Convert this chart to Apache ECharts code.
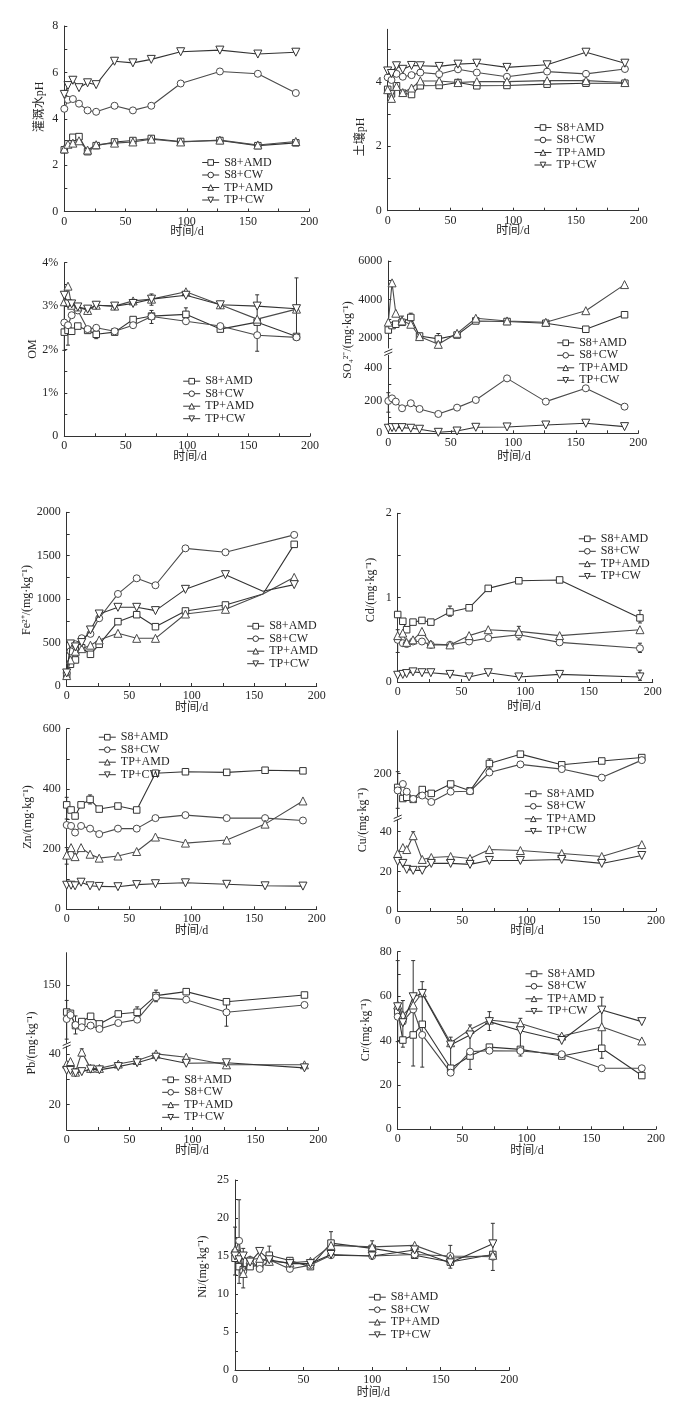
<!DOCTYPE html>
<html><head><meta charset="utf-8">
<script src="https://cdn.jsdelivr.net/npm/echarts/dist/echarts.min.js"></script>
<style>html,body{margin:0;padding:0;background:#fff}#c{width:692px;height:1413px}</style>
</head><body><div id="c"></div><script>
// ---------- data ----------
const seriesNames = ['S8+AMD','S8+CW','TP+AMD','TP+CW'];
const xTickLabels = [0,50,100,150,200];

const daysPHw = [0,3,7,12,19,26,41,56,71,95,127,158,189];
const phwS8AMD = [2.66,2.92,3.2,3.23,2.58,2.84,3.0,3.06,3.15,3.02,3.06,2.84,2.96];
const phwS8CW  = [4.43,4.82,4.85,4.65,4.36,4.30,4.56,4.36,4.56,5.52,6.04,5.94,5.11];
const phwTPAMD = [2.7,2.9,2.95,3.05,2.65,2.88,2.95,3.0,3.12,3.0,3.08,2.87,3.02];
const phwTPCW  = [5.05,5.43,5.66,5.34,5.55,5.47,6.48,6.41,6.56,6.89,6.96,6.79,6.87];

const daysPHs = [0,3,7,12,19,26,41,56,71,95,127,158,189];
const phsS8AMD = [3.76,3.62,3.87,3.64,3.6,3.87,3.88,3.97,3.87,3.88,3.92,3.95,3.95];
const phsS8CW  = [4.13,4.05,4.24,4.15,4.2,4.28,4.23,4.38,4.28,4.15,4.31,4.24,4.39];
const phsTPAMD = [3.75,3.48,3.85,3.66,3.8,4.02,4.02,3.97,4.0,4.0,4.03,4.03,3.97];
const phsTPCW  = [4.33,4.25,4.49,4.38,4.5,4.49,4.47,4.54,4.57,4.44,4.52,4.91,4.57];

const daysOM = [0,3,6,11,19,26,41,56,71,99,127,157,189];
const omS8AMD = [2.4,2.44,2.42,2.54,2.44,2.35,2.4,2.69,2.77,2.81,2.47,2.63,2.3];
const omS8CW  = [2.62,2.56,2.79,2.9,2.47,2.5,2.42,2.56,2.76,2.65,2.54,2.33,2.28];
const omTPAMD = [3.1,3.46,3.02,2.98,2.9,3.02,3.0,3.12,3.16,3.33,3.03,2.7,2.93];
const omTPCW  = [3.25,3.05,3.05,2.98,2.93,3.02,3.0,3.06,3.16,3.25,3.03,3.0,2.94];
const omErr   = [[0,1.98,3.29],[3,2.1,2.5],[26,2.25,2.45],[71,2.6,2.9],[71,3.02,3.28],[99,2.68,2.96],[157,1.96,3.26],[189,2.22,3.65]];

const daysSO4 = [0,3,6,11,18,25,40,55,70,95,126,158,189];
const so4S8AMD = [2430,2660,2730,2830,3080,2120,1970,2170,2900,2870,2780,2470,3220];
const so4S8CW  = [199,215,195,154,185,150,119,158,205,338,195,277,164];
const so4TPAMD = [2835,4870,3300,2900,2730,2090,1690,2260,3040,2900,2830,3430,4780];
const so4TPCW  = [31,35,35,35,31,25,6,14,37,39,51,62,41];
const so4UpErr = [[11,2750,3150],[18,2900,3300],[40,1750,2250]];
const so4LoErr = [[0,130,250]];

const daysFe = [0,3,7,12,19,26,41,56,71,95,127,157,182];
const feS8AMD = [130,250,300,440,365,480,741,821,683,864,933,1060,1631];
const feS8CW  = [150,400,480,550,600,780,1060,1240,1160,1585,1540,null,1740];
const feTPAMD = [120,300,400,430,470,530,607,549,549,829,883,1060,1251];
const feTPCW  = [150,484,450,500,645,829,906,906,868,1113,1282,1090,1167];

const daysCd = [0,4,7,12,19,26,41,56,71,95,127,190];
const cdS8AMD = [0.80,0.72,0.62,0.71,0.73,0.71,0.83,0.88,1.11,1.20,1.21,0.76];
const cdS8CW  = [0.50,0.46,0.45,0.48,0.48,0.44,0.44,0.48,0.52,0.56,0.47,0.40];
const cdTPAMD = [0.55,0.58,0.47,0.50,0.60,0.45,0.44,0.55,0.62,0.60,0.55,0.62];
const cdTPCW  = [0.08,0.09,0.10,0.12,0.11,0.11,0.09,0.06,0.11,0.06,0.09,0.06];
const cdErr   = [[0,0.35,0.62],[41,0.78,0.9],[95,0.5,0.66],[190,0.7,0.85],[190,0.35,0.46],[190,0.02,0.14]];

const daysZn = [0,3.5,6.7,11.5,18.7,26,41,56,71,95,128,158.7,189];
const znS8AMD = [347,330,310,347,365,333,343,330,452,457,455,462,460];
const znS8CW  = [280,277,255,277,268,250,268,268,303,313,303,303,295];
const znTPAMD = [180,205,175,205,183,170,177,192,240,220,230,283,360];
const znTPCW  = [80,80,78,90,78,76,75,82,85,88,83,78,77];
const znErr   = [[0,300,372],[0,150,205],[18.7,350,380]];

const daysCu = [0,4,7,12,19,26,41,56,71,95,127,158,189];
const cuS8AMD = [167,141,144,139,162,153,175,159,223,245,220,229,237];
const cuS8CW  = [160,175,157,140,148,133,157,158,202,221,210,190,231];
const cuTPAMD = [29,32,31,38,26,27,27.5,26.5,31,30.5,29,27.5,33.5];
const cuTPCW  = [25,24,21,20.5,20.5,24,24,23.5,25.5,25.5,26,24,28];
const cuUpErr = [[0,118,204],[71,212,234]];
const cuLoErr = [[12,36,40]];

const daysPb = [0,3,7,12,19,26,41,56,71,95,127,189];
const pbS8AMD = [129,128,118.5,121.6,125.7,119.8,127.5,128.8,141.7,144.8,137,142.2];
const pbS8CW  = [123.6,126.7,119,117.2,118.5,115.9,120.5,123.1,140.4,138.6,128.8,134.5];
const pbTPAMD = [36,37,32.8,40.7,34.3,34.3,36,37.4,40,38.7,35.7,35.7];
const pbTPCW  = [33.5,33.5,32.5,33,34,33.7,35,36.5,38.7,36.3,36.5,34.5];
const pbUpErr = [[0,108,138],[7,112,126],[56,124,133],[71,137,146],[127,118,138]];
const pbLoErr = [[12,39,42],[56,36,39]];

const daysCr = [0,4,12,19,41,56,71,95,127,158,189];
const crS8AMD = [53,40.2,42.5,47.3,27.5,33,37,36,33,36.5,24.2];
const crS8CW  = [50.7,48.5,54,42.5,25.5,35,35.4,35.3,33.8,27.5,27.5];
const crTPAMD = [56,51.5,56,61.5,39,45,49.2,47.7,42,46.2,39.8];
const crTPCW  = [55.2,48,59.7,61.2,38,42.5,48.5,44.4,40,53.7,48.5];
const crErr   = [[0,39.5,76],[4,37,58],[12,28.5,76],[19,28,66.5],[41,24.5,41.5],[56,27,47],[71,44.5,53],[95,33,50],[158,32,59.5]];

const daysNi = [0,3,6,11,18,25,40,55,70,100,131,157,188];
const niS8AMD = [14.7,13.6,13.2,13.6,13.8,15.1,14.4,13.6,16.7,16,15.1,14.2,15.2];
const niS8CW  = [15.5,17,13,14.5,13.3,14.5,13.3,13.8,15.1,15,15.2,15,14.9];
const niTPAMD = [15.8,15.3,12.7,14.5,14.7,14.3,14.1,14.3,16.4,16.2,16.4,14.7,15.1];
const niTPCW  = [15,14.5,15,14.2,15.6,14.5,14,14,15.2,15,15.8,14.1,16.6];
const niErr   = [[0,12.5,18.8],[3,11.4,22.4],[6,10.8,16],[25,13.8,16.3],[70,14.8,18.2],[100,15,17],[157,13.4,16.4],[188,13.1,19.3]];

// ---------- style ----------
const FONT = "'Liberation Serif','Times New Roman','Noto Sans CJK SC',serif";
const TXT = '#262626';
const AX = '#333';
const SYM = ['rect','circle','triangle','triangle'];
const ROT = [0,0,0,180];
const SZ = [6.5,7,8,8];
const COL = ['#333','#4a4a4a','#4a4a4a','#333'];

function range(a,b,s){const r=[];for(let v=a;v<=b+1e-9;v+=s)r.push(+v.toFixed(6));return r;}

const grids=[], xAxes=[], yAxes=[], series=[], legends=[], graphics=[];

function addGrid(box, y, showX){
  const gi = grids.length;
  grids.push({left:box.l, top:box.t, width:box.r-box.l, height:box.b-box.t});
  xAxes.push({gridIndex:gi, type:'value', min:0, max:200, show:showX,
    axisLine:{lineStyle:{color:AX,width:1}},
    axisTick:{inside:true,length:3,customValues:range(0,200,25),lineStyle:{color:AX}},
    axisLabel:{customValues:xTickLabels, margin:4, fontSize:12, fontFamily:FONT, color:TXT},
    splitLine:{show:false}});
  yAxes.push({gridIndex:gi, type:'value', min:y.min, max:y.max,
    axisLine:{show:true,lineStyle:{color:AX,width:1}},
    axisTick:{show:true,inside:true,length:3,customValues:y.ticks,lineStyle:{color:AX}},
    axisLabel:{customValues:y.labels, formatter:y.fmt||(v=>String(v)), margin:6, fontSize:12, fontFamily:FONT, color:TXT},
    splitLine:{show:false}});
  return gi;
}
function addSeries(gi,k,xs,ys,noSym){
  const data=[];
  xs.forEach((x,i)=>{ if(ys[i]==null) return; const d={value:[x,ys[i]]}; if(noSym&&noSym.includes(i)) d.symbol='none'; data.push(d);});
  series.push({type:'line', name:seriesNames[k], xAxisIndex:gi, yAxisIndex:gi, data,
    symbol:SYM[k], symbolRotate:ROT[k], symbolSize:SZ[k], showAllSymbol:true,
    itemStyle:{color:'#fff',borderColor:COL[k],borderWidth:1},
    lineStyle:{color:COL[k],width:1.1}, animation:false, z:3+k});
}
function addErr(gi,arr){
  series.push({type:'custom', xAxisIndex:gi, yAxisIndex:gi, data:arr, silent:true, z:2, animation:false,
    encode:{x:0,y:[1,2]},
    renderItem:(p,api)=>{
      const x=api.value(0), a=api.coord([x,api.value(1)]), b=api.coord([x,api.value(2)]);
      const st={stroke:'#333',lineWidth:1};
      return {type:'group',children:[
        {type:'line',shape:{x1:a[0],y1:a[1],x2:b[0],y2:b[1]},style:st},
        {type:'line',shape:{x1:a[0]-2,y1:a[1],x2:a[0]+2,y2:a[1]},style:st},
        {type:'line',shape:{x1:b[0]-2,y1:b[1],x2:b[0]+2,y2:b[1]},style:st}]};
    }});
}
function addLegend(l,t){
  legends.push({left:l, top:t, orient:'vertical', itemWidth:17, itemHeight:7, itemGap:0.5, padding:0,
    selectedMode:false, data:seriesNames,
    itemStyle:{color:'#fff',borderColor:'#333',borderWidth:1},
    lineStyle:{color:'#333',width:1},
    textStyle:{fontSize:12, fontFamily:FONT, color:TXT, lineHeight:11}});
}
function ytitle(x,y,t){graphics.push({type:'text',x,y,rotation:Math.PI/2,
  style:{text:t,fontSize:12,fontFamily:FONT,fill:TXT,align:'center',verticalAlign:'middle'}});}
function xtitle(x,y,t){graphics.push({type:'text',x,y,
  style:{text:t||'时间/d',fontSize:12,fontFamily:FONT,fill:TXT,align:'center',verticalAlign:'middle'}});}
function brk(x,y){
  graphics.push({type:'line',shape:{x1:x-4,y1:y+0.5,x2:x+4,y2:y-3},style:{stroke:AX,lineWidth:1}});
  graphics.push({type:'line',shape:{x1:x-4,y1:y+3.5,x2:x+4,y2:y},style:{stroke:AX,lineWidth:1}});
}
function panel(gi, xs, arrs, noSym){ arrs.forEach((a,k)=>{ if(a) addSeries(gi,k,xs,a,noSym); }); }

// 1 irrigation water pH
let g = addGrid({l:64.3,r:309.3,t:26,b:211.5},{min:0,max:8,ticks:range(0,8,1),labels:[0,2,4,6,8]},true);
panel(g,daysPHw,[phwS8AMD,phwS8CW,phwTPAMD,phwTPCW]);
ytitle(40,107,'灌溉水pH'); xtitle(187,231.5); addLegend(201.7,156.5);

// 2 soil pH
g = addGrid({l:387.7,r:638.7,t:29.3,b:210.7},{min:0,max:5.62,ticks:[0,1,2,3,4,5],labels:[0,2,4]},true);
panel(g,daysPHs,[phsS8AMD,phsS8CW,phsTPAMD,phsTPCW]);
ytitle(361,137,'土壤pH'); xtitle(513,231); addLegend(534,121.5);

// 3 OM
g = addGrid({l:64.3,r:310,t:262.7,b:436.3},{min:0,max:4,ticks:range(0,4,0.5),labels:[0,1,2,3,4],fmt:v=>v===0?'0':v+'%'},true);
addErr(g,omErr);
panel(g,daysOM,[omS8AMD,omS8CW,omTPAMD,omTPCW]);
ytitle(33,349,'OM'); xtitle(190,456.7); addLegend(182.7,375.2);

// 4 SO4 (broken axis)
g = addGrid({l:388.3,r:638.3,t:355.3,b:433.3},{min:0,max:480,ticks:[0,100,200,300,400],labels:[0,200,400]},true);
addErr(g,so4LoErr);
panel(g,daysSO4,[null,so4S8CW,null,so4TPCW]);
g = addGrid({l:388.3,r:638.3,t:261,b:348},{min:1500,max:6000,ticks:[2000,3000,4000,5000,6000],labels:[2000,4000,6000]},false);
addErr(g,so4UpErr);
panel(g,daysSO4,[so4S8AMD,null,so4TPAMD,null]);
brk(388.3,352); ytitle(348,340,'SO₄²⁻/(mg·kg⁻¹)'); xtitle(514,456.7); addLegend(556.7,336.8);

// 5 Fe
g = addGrid({l:66.7,r:316.7,t:512.3,b:686},{min:0,max:2000,ticks:range(0,2000,250),labels:[0,500,1000,1500,2000]},true);
panel(g,daysFe,[feS8AMD,feS8CW,feTPAMD,feTPCW],[11]);
ytitle(26.7,600,'Fe²⁺/(mg·kg⁻¹)'); xtitle(191.7,708); addLegend(246.7,620.2);

// 6 Cd
g = addGrid({l:397.7,r:652.7,t:513.3,b:682},{min:0,max:2,ticks:range(0,2,0.5),labels:[0,1,2]},true);
addErr(g,cdErr);
panel(g,daysCd,[cdS8AMD,cdS8CW,cdTPAMD,cdTPCW]);
ytitle(371,590,'Cd/(mg·kg⁻¹)'); xtitle(524,706.7); addLegend(578.3,532.8);

// 7 Zn
g = addGrid({l:66.7,r:316.7,t:728.7,b:909.3},{min:0,max:600,ticks:range(0,600,100),labels:[0,200,400,600]},true);
addErr(g,znErr);
panel(g,daysZn,[znS8AMD,znS8CW,znTPAMD,znTPCW]);
ytitle(28,817,'Zn/(mg·kg⁻¹)'); xtitle(191.7,931); addLegend(98.3,731.2);

// 8 Cu (broken axis)
g = addGrid({l:397.7,r:656,t:819.8,b:911},{min:0,max:46,ticks:[0,10,20,30,40],labels:[0,20,40]},true);
addErr(g,cuLoErr);
panel(g,daysCu,[null,null,cuTPAMD,cuTPCW]);
g = addGrid({l:397.7,r:656,t:730.7,b:816},{min:100,max:300,ticks:[200],labels:[200]},false);
addErr(g,cuUpErr);
panel(g,daysCu,[cuS8AMD,cuS8CW,null,null]);
brk(397.7,818); ytitle(362.7,820,'Cu/(mg·kg⁻¹)'); xtitle(527,931); addLegend(524.3,787.8);

// 9 Pb (broken axis)
g = addGrid({l:66.7,r:318.3,t:1046.3,b:1130},{min:10,max:43,ticks:[10,20,30,40],labels:[20,40]},true);
addErr(g,pbLoErr);
panel(g,daysPb,[null,null,pbTPAMD,pbTPCW]);
g = addGrid({l:66.7,r:318.3,t:952.7,b:1043},{min:105,max:175,ticks:[150],labels:[150]},false);
addErr(g,pbUpErr);
panel(g,daysPb,[pbS8AMD,pbS8CW,null,null]);
brk(66.7,1045); ytitle(31.7,1043,'Pb/(mg·kg⁻¹)'); xtitle(192,1151); addLegend(161.7,1073.8);

// 10 Cr
g = addGrid({l:397.7,r:656,t:951.7,b:1129.3},{min:0,max:80,ticks:range(0,80,10),labels:[0,20,40,60,80]},true);
addErr(g,crErr);
panel(g,daysCr,[crS8AMD,crS8CW,crTPAMD,crTPCW]);
ytitle(366,1030,'Cr/(mg·kg⁻¹)'); xtitle(527,1151); addLegend(525,967.8);

// 11 Ni
g = addGrid({l:235,r:509.3,t:1180,b:1370},{min:0,max:25,ticks:range(0,25,2.5),labels:range(0,25,5)},true);
addErr(g,niErr);
panel(g,daysNi,[niS8AMD,niS8CW,niTPAMD,niTPCW]);
ytitle(203.3,1266.7,'Ni/(mg·kg⁻¹)'); xtitle(373.3,1393.3); addLegend(368.3,1291.2);

const chart = echarts.init(document.getElementById('c'),null,{renderer:'canvas'});
chart.setOption({animation:false, backgroundColor:'#fff', grid:grids, xAxis:xAxes, yAxis:yAxes,
  series, legend:legends, graphic:graphics});
</script></body></html>
